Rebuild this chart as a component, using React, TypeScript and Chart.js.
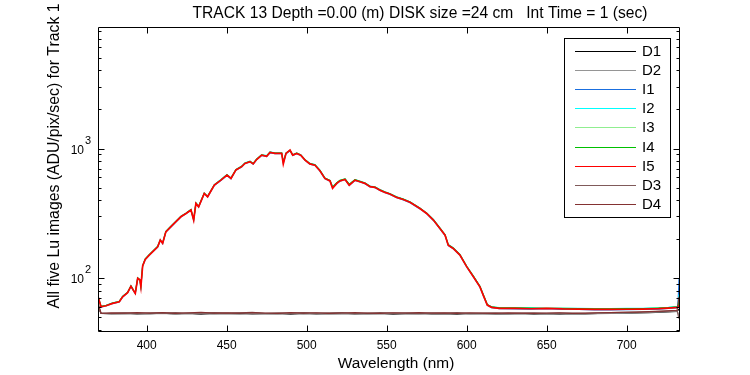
import { useEffect, useRef } from "react";
import { Chart, registerables } from "chart.js";
Chart.register(...registerables);

const title = "TRACK 13 Depth =0.00 (m) DISK size =24 cm   Int Time = 1 (sec)";
const xLabel = "Wavelength (nm)";
const yLabel = "All five Lu images (ADU/pix/sec) for Track 1";

const xTicks = [400, 450, 500, 550, 600, 650, 700];
const yMajorTicks = [100, 1000];
const yMajorExp = ["2", "3"];
const yMinorTicks = [40, 50, 60, 70, 80, 90, 200, 300, 400, 500, 600, 700, 800, 900, 2000, 3000, 4000, 5000, 6000, 7000, 8000];

const seriesNames = ["D1", "D2", "I1", "I2", "I3", "I4", "I5", "D3", "D4"];
const seriesColors = ["#000000", "#959595", "#1a6fdf", "#00ffff", "#90ee90", "#00c000", "#ff0000", "#805a5a", "#843232"];
const seriesWidths = [1.2, 1.2, 1.1, 1.1, 1.1, 1.1, 1.7, 1.2, 1.2];

// signal wavelengths (nm)
const sigWl = [369.7, 371.5, 374.6, 378.7, 382.9, 385, 388.1, 390.2, 391.9, 392.9,
  394.4, 395.8, 396.4, 397.5, 399.1, 401.6, 404.8, 406.9, 408.5, 410,
  412, 415.2, 418.3, 421.4, 424.6, 427.7, 429.4, 430.8, 432.5, 436,
  438.1, 442.3, 446.4, 450.2, 452.7, 455.8, 459.4, 461.4, 464.6, 466.6,
  468.7, 471.9, 475, 477.1, 480.2, 484.4, 485.4, 487.1, 489.6, 491.3,
  493.8, 496.3, 499, 502, 505.2, 508.3, 511.4, 514.6, 516.2, 518.8,
  520.8, 524, 526.6, 530.2, 533.3, 536.4, 539.6, 542.7, 545.8, 549,
  552, 556.3, 560.4, 564.6, 570.8, 575, 579.2, 583.3, 586.5, 588.5,
  591.6, 595.8, 600, 604.2, 608.3, 610.4, 612.9, 615.6, 620.4, 630,
  640, 650, 660, 670, 680, 690, 700, 710, 720, 726,
  732.0, 732.7];

const I1 = [71.6, 60.1, 61.2, 63.9, 65.6, 71.6, 77.1, 86.4, 79.5, 76.2,
  99.5, 96.4, 85.5, 123.8, 139.2, 150.2, 164.2, 174, 195.8, 185,
  226.6, 248.6, 271.4, 296.4, 314.2, 334, 279.5, 376, 354, 448.5,
  422, 519, 567.5, 620, 584.5, 680, 720.5, 764, 787.5, 756.5,
  817, 884, 867, 926, 911, 911, 770, 911, 962, 884,
  912, 884, 809, 756, 740, 670, 584.5, 559, 498, 535,
  559.5, 574.5, 520, 567, 551.5, 535.5, 504.5, 498.5, 475, 456,
  443, 417, 402, 382.5, 342.5, 313.5, 279, 240, 213.5, 178.5,
  169, 150, 122.2, 102.3, 85.4, 73.5, 61.9, 59.4, 58.3, 58.1,
  57.8, 58.3, 57.6, 57.5, 57.2, 57.1, 57.3, 57.5, 57.9, 58.5,
  59.4, 100];

const I2 = [72.6, 60.9, 61.9, 64.8, 66.6, 72.8, 78.3, 88, 80.9, 77.5,
  101.2, 98, 87.5, 126, 141.6, 152.5, 166.6, 176.8, 198.5, 188,
  230.4, 252.8, 276, 301.5, 319.5, 339.5, 287, 382, 360, 455,
  430, 527, 577, 631, 594, 691, 733, 776, 800, 769,
  830, 897, 881, 941, 926, 926, 800, 926, 965, 897,
  926, 897, 822, 769, 752, 681, 594, 569, 510, 544,
  568, 583, 530, 577, 561, 545, 514, 507.5, 483, 464,
  450.5, 424.5, 409, 389, 348.5, 319, 284, 244.5, 217, 182,
  172, 152.8, 124.4, 104.3, 87, 75, 62.9, 60.4, 59.6, 59.2,
  59.2, 59, 58.9, 58.8, 58.6, 58.5, 58.7, 58.9, 59.3, 59.9,
  60.8, 75];

const I3 = [72.3, 60.6, 61.2, 64.5, 66.3, 72.3, 77.9, 86.5, 80.4, 77,
  100.5, 97.4, 86.8, 125, 140.8, 151.6, 165.8, 175.8, 197.8, 187,
  229, 251.4, 274, 299.5, 317.4, 337.4, 283, 379.4, 358, 452.5,
  427, 524, 573, 626.5, 590.5, 686.5, 727.5, 770.5, 795, 764,
  825, 892, 875, 935, 920, 920, 775, 920, 970, 892,
  920, 892, 817, 764, 747, 677, 590.5, 565.5, 500, 543,
  566, 581, 527, 573.5, 557.5, 541.5, 510.5, 504, 480, 461,
  448, 422, 407, 387, 347, 317.5, 282.5, 243.5, 216, 181,
  171, 152, 123.6, 103.6, 86.5, 74.5, 62.6, 60, 59, 58.9,
  58.6, 59.2, 58.4, 58.2, 58.1, 58, 58.2, 58.3, 58.8, 59.3,
  60, 64];

const I4 = [71.5, 60.8, 61.8, 64.6, 66.4, 72.6, 78, 87.6, 80.6, 77.2,
  100.8, 97.6, 87, 125.5, 141, 152, 166.2, 176.4, 196, 187.5,
  229.5, 252, 274.5, 300, 318, 338, 285, 380, 359, 453,
  428, 525, 574, 628, 592, 688, 729, 772, 797, 766,
  827, 894, 877, 937, 923, 922, 790, 922, 968, 895,
  923, 894, 819, 766, 749, 679, 592, 568, 505, 546,
  569, 584, 532, 575, 560, 543, 512, 506, 482, 462.5,
  449, 423, 408, 388, 347.5, 318, 283, 244, 216.5, 181.5,
  171.5, 152.2, 124, 104, 86.8, 74.8, 62.8, 60.3, 59.4, 59.3,
  59, 58.6, 58.8, 58.5, 58.3, 58.3, 58.5, 58.6, 59.1, 59.6,
  60.4, 66];

const I5 = [72, 60.4, 61.5, 64.2, 66, 72, 77.5, 87, 80, 76.6,
  100, 97, 86, 124.5, 140, 151, 165, 175, 197, 186,
  228, 250, 273, 298, 316, 336, 281, 378, 356, 451,
  425, 522, 571, 624, 588, 684, 725, 768, 792, 761,
  822, 889, 872, 932, 917, 917, 761, 917, 974, 889,
  917, 889, 814, 761, 744, 674, 588, 563, 494, 539,
  563, 578, 522, 571, 555, 539, 508, 502, 478, 459,
  446, 420, 405, 385, 345, 316, 281, 242, 215, 180,
  170, 151, 123, 103, 86, 74, 62.3, 59.8, 58.8, 58.6,
  58.3, 58.7, 58.1, 58.0, 57.7, 57.6, 57.8, 58.0, 58.4, 59.0,
  59.8, 62];

// dark wavelengths (nm)
const darkWl = [369.7, 371.5, 378, 386, 394, 402, 410, 418, 426, 434,
  442, 450, 458, 466, 474, 482, 490, 498, 506, 514,
  522, 530, 538, 546, 554, 562, 570, 578, 586, 594,
  602, 610, 618, 626, 634, 642, 650, 658, 666, 674,
  682, 690, 698, 706, 714, 722, 731.5, 732.7];

const D1 = [62, 53.6, 53.4, 53.8, 53.2, 53.5, 53.9, 53.3, 53.6, 53.1,
  53.7, 53.4, 53.8, 53.2, 53.5, 53.6, 53.0, 53.7, 53.3, 53.5,
  53.8, 53.2, 53.4, 53.6, 53.1, 53.5, 53.7, 53.3, 53.4, 53.0,
  53.6, 53.5, 53.2, 53.3, 53.6, 53.1, 53.4, 53.0, 53.5, 53.3,
  53.6, 53.8, 54.0, 54.2, 54.5, 55.0, 55.6, 58];

const D2 = [60, 53.9, 53.1, 53.5, 54.0, 53.2, 53.6, 53.0, 53.9, 53.4,
  53.2, 53.8, 53.1, 53.6, 53.3, 53.0, 53.7, 53.2, 53.8, 53.0,
  53.4, 53.6, 53.1, 53.5, 53.8, 53.2, 53.0, 53.6, 53.3, 53.7,
  53.1, 53.3, 53.6, 53.0, 53.2, 53.5, 52.9, 53.4, 53.1, 53.2,
  53.4, 53.6, 53.9, 54.3, 54.6, 55.2, 55.8, 52];

const D3 = [58, 54.1, 53.7, 54.2, 53.8, 54.3, 53.9, 54.4, 53.8, 54.1,
  54.5, 53.9, 54.2, 54.6, 53.8, 54.3, 54.0, 54.4, 53.9, 54.2,
  54.5, 53.8, 54.1, 54.4, 53.9, 54.2, 53.8, 54.3, 54.0, 54.4,
  53.7, 54.1, 54.3, 53.8, 54.0, 54.2, 53.7, 53.9, 54.1, 53.8,
  54.2, 54.4, 54.6, 54.9, 55.2, 55.7, 56.4, 49];

const D4 = [64, 53.8, 54.2, 53.9, 54.4, 54.0, 54.5, 53.7, 54.3, 54.6,
  53.9, 54.2, 54.0, 54.4, 54.1, 53.8, 54.5, 54.0, 54.3, 53.8,
  54.1, 54.4, 54.0, 53.7, 54.3, 54.1, 54.4, 53.9, 54.2, 53.8,
  54.3, 54.0, 53.8, 54.2, 53.9, 53.7, 54.1, 54.3, 53.8, 54.0,
  54.3, 54.5, 54.8, 55.0, 55.4, 55.9, 56.8, 72];

const X_MIN = 369.6;
const X_MAX = 732.7;
const Y_MIN = 39.3;
const Y_MAX = 8630;

const FONT = "'Liberation Sans', Arial, Helvetica, sans-serif";

function pts(wl: number[], vals: number[]) {
  return vals.map((v, i) => ({ x: wl[i], y: v }));
}

const framePlugin = {
  id: "matlabFrame",
  beforeDraw(chart: any) {
    const ctx = chart.ctx;
    ctx.save();
    ctx.fillStyle = "#ffffff";
    ctx.fillRect(0, 0, chart.width, chart.height);
    ctx.restore();
  },
  afterDraw(chart: any) {
    const ctx = chart.ctx;
    const { left, right, top, bottom } = chart.chartArea;
    const xs = chart.scales.x;
    const ys = chart.scales.y;
    const L = Math.round(left) + 0.5;
    const R = Math.round(right) + 0.5;
    const T = Math.round(top) + 0.5;
    const B = Math.round(bottom) + 0.5;
    ctx.save();
    ctx.strokeStyle = "#000";
    ctx.lineWidth = 1;
    ctx.beginPath();
    ctx.rect(L, T, R - L, B - T);
    xTicks.forEach((v) => {
      const px = Math.round(xs.getPixelForValue(v)) + 0.5;
      ctx.moveTo(px, B);
      ctx.lineTo(px, B - 6);
      ctx.moveTo(px, T);
      ctx.lineTo(px, T + 6);
    });
    yMajorTicks.forEach((v) => {
      const py = Math.round(ys.getPixelForValue(v)) + 0.5;
      ctx.moveTo(L, py);
      ctx.lineTo(L + 6, py);
      ctx.moveTo(R, py);
      ctx.lineTo(R - 6, py);
    });
    yMinorTicks.forEach((v) => {
      const py = Math.round(ys.getPixelForValue(v)) + 0.5;
      ctx.moveTo(L, py);
      ctx.lineTo(L + 3, py);
      ctx.moveTo(R, py);
      ctx.lineTo(R - 3, py);
    });
    ctx.stroke();

    ctx.fillStyle = "#000";
    ctx.font = "12px " + FONT;
    ctx.textAlign = "center";
    ctx.textBaseline = "alphabetic";
    xTicks.forEach((v) => {
      ctx.fillText(String(v), xs.getPixelForValue(v), 349);
    });
    yMajorTicks.forEach((v, i) => {
      const py = ys.getPixelForValue(v);
      ctx.font = "12px " + FONT;
      ctx.textAlign = "right";
      ctx.fillText("10", 84, py + 5);
      ctx.font = "11px " + FONT;
      ctx.textAlign = "left";
      ctx.fillText(yMajorExp[i], 85, py - 5);
    });
    ctx.font = "15.6px " + FONT;
    ctx.textAlign = "center";
    ctx.fillText(title, 420, 18);
    ctx.font = "15.4px " + FONT;
    ctx.fillText(xLabel, 396, 368);
    ctx.save();
    ctx.translate(55, 156);
    ctx.rotate(-Math.PI / 2);
    ctx.textBaseline = "middle";
    ctx.font = "15.8px " + FONT;
    ctx.fillText(yLabel, 0, 0);
    ctx.restore();

    // legend
    const lx = 564.5, ly = 38.5, lw = 106, lh = 179;
    ctx.fillStyle = "#fff";
    ctx.fillRect(lx, ly, lw, lh);
    ctx.strokeStyle = "#000";
    ctx.lineWidth = 1;
    ctx.strokeRect(lx, ly, lw, lh);
    ctx.font = "15px " + FONT;
    ctx.textAlign = "left";
    ctx.textBaseline = "middle";
    chart.data.datasets.forEach((ds: any, i: number) => {
      const y = Math.round(50.7 + 19.17 * i) + 0.5;
      ctx.strokeStyle = ds.borderColor;
      ctx.lineWidth = 1;
      ctx.beginPath();
      ctx.moveTo(575, y);
      ctx.lineTo(636, y);
      ctx.stroke();
      ctx.fillStyle = "#000";
      ctx.fillText(ds.label, 642, y + 0.5);
    });
    ctx.restore();
  },
};

export default function App() {
  const ref = useRef<HTMLCanvasElement | null>(null);
  useEffect(() => {
    if (!ref.current) return;
    const seriesData = [
      pts(darkWl, D1),
      pts(darkWl, D2),
      pts(sigWl, I1),
      pts(sigWl, I2),
      pts(sigWl, I3),
      pts(sigWl, I4),
      pts(sigWl, I5),
      pts(darkWl, D3),
      pts(darkWl, D4),
    ];
    const chart = new Chart(ref.current, {
      type: "line",
      data: {
        datasets: seriesNames.map((name, i) => ({
          label: name,
          data: seriesData[i],
          borderColor: seriesColors[i],
          backgroundColor: seriesColors[i],
          borderWidth: seriesWidths[i],
          pointRadius: 0,
          tension: 0,
          fill: false,
          order: seriesNames.length - 1 - i,
        })),
      },
      options: {
        responsive: false,
        animation: false,
        devicePixelRatio: 1,
        layout: { padding: { left: 98, right: 71, top: 27, bottom: 44 } },
        scales: {
          x: { type: "linear", min: X_MIN, max: X_MAX, display: false },
          y: { type: "logarithmic", min: Y_MIN, max: Y_MAX, display: false },
        },
        plugins: {
          legend: { display: false },
          title: { display: false },
          tooltip: { enabled: false },
        },
      },
      plugins: [framePlugin],
    } as any);
    return () => chart.destroy();
  }, []);
  return (
    <div style={{ position: "absolute", left: 0, top: 0, width: 750, height: 375 }}>
      <canvas ref={ref} width={750} height={375} style={{ display: "block" }} />
    </div>
  );
}
